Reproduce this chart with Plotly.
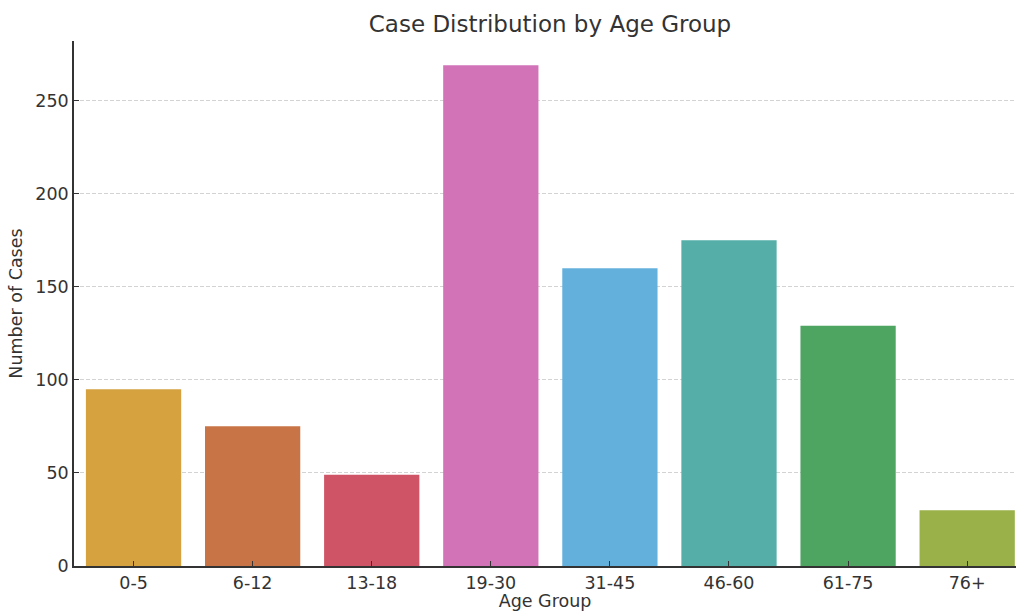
import plotly.graph_objects as go

age_groups = ["0-5", "6-12", "13-18", "19-30", "31-45", "46-60", "61-75", "76+"]
cases = [95, 75, 49, 269, 160, 175, 129, 30]
bar_colors = ["#D5A23F", "#C97446", "#CF5566", "#D273B7", "#64B0DD", "#55AFA8", "#4EA562", "#9AB14A"]
y_ticks = [0, 50, 100, 150, 200, 250]

text_color = "#333333"
font_family = "DejaVu Sans, sans-serif"

fig = go.Figure(
    go.Bar(
        x=age_groups,
        y=cases,
        marker=dict(color=bar_colors, line=dict(width=0)),
        width=0.8,
    )
)

fig.update_layout(
    width=1016,
    height=611,
    margin=dict(l=74, r=0, t=41, b=45),
    paper_bgcolor="white",
    plot_bgcolor="white",
    font=dict(family=font_family, color=text_color, size=17),
    title=dict(
        text="Case Distribution by Age Group",
        x=550 / 1016,
        xanchor="center",
        y=1 - 24 / 611,
        yanchor="middle",
        font=dict(size=23, color=text_color),
    ),
    showlegend=False,
    bargap=0.2,
)

fig.update_xaxes(
    type="category",
    range=[-0.5, 7.41],
    showline=True,
    linecolor="#333333",
    linewidth=1.5,
    ticks="inside",
    ticklen=5,
    tickcolor="#333333",
    tickfont=dict(size=17.5, color=text_color),
    showgrid=False,
    title=dict(text="Age Group", font=dict(size=17.5, color=text_color), standoff=2),
)

fig.update_yaxes(
    range=[0, 282],
    tickvals=y_ticks,
    showline=True,
    linecolor="#333333",
    linewidth=1.5,
    ticks="inside",
    ticklen=5,
    tickcolor="#333333",
    tickfont=dict(size=17.5, color=text_color),
    showgrid=True,
    gridcolor="#D3D3D3",
    griddash="4px,2px",
    gridwidth=1,
    zeroline=False,
    title=dict(text="Number of Cases", font=dict(size=17.5, color=text_color), standoff=8),
)

fig.write_html(
    "out.html",
    config={"displayModeBar": False},
    post_script="document.body.style.margin='0';document.body.style.overflow='hidden';",
)
